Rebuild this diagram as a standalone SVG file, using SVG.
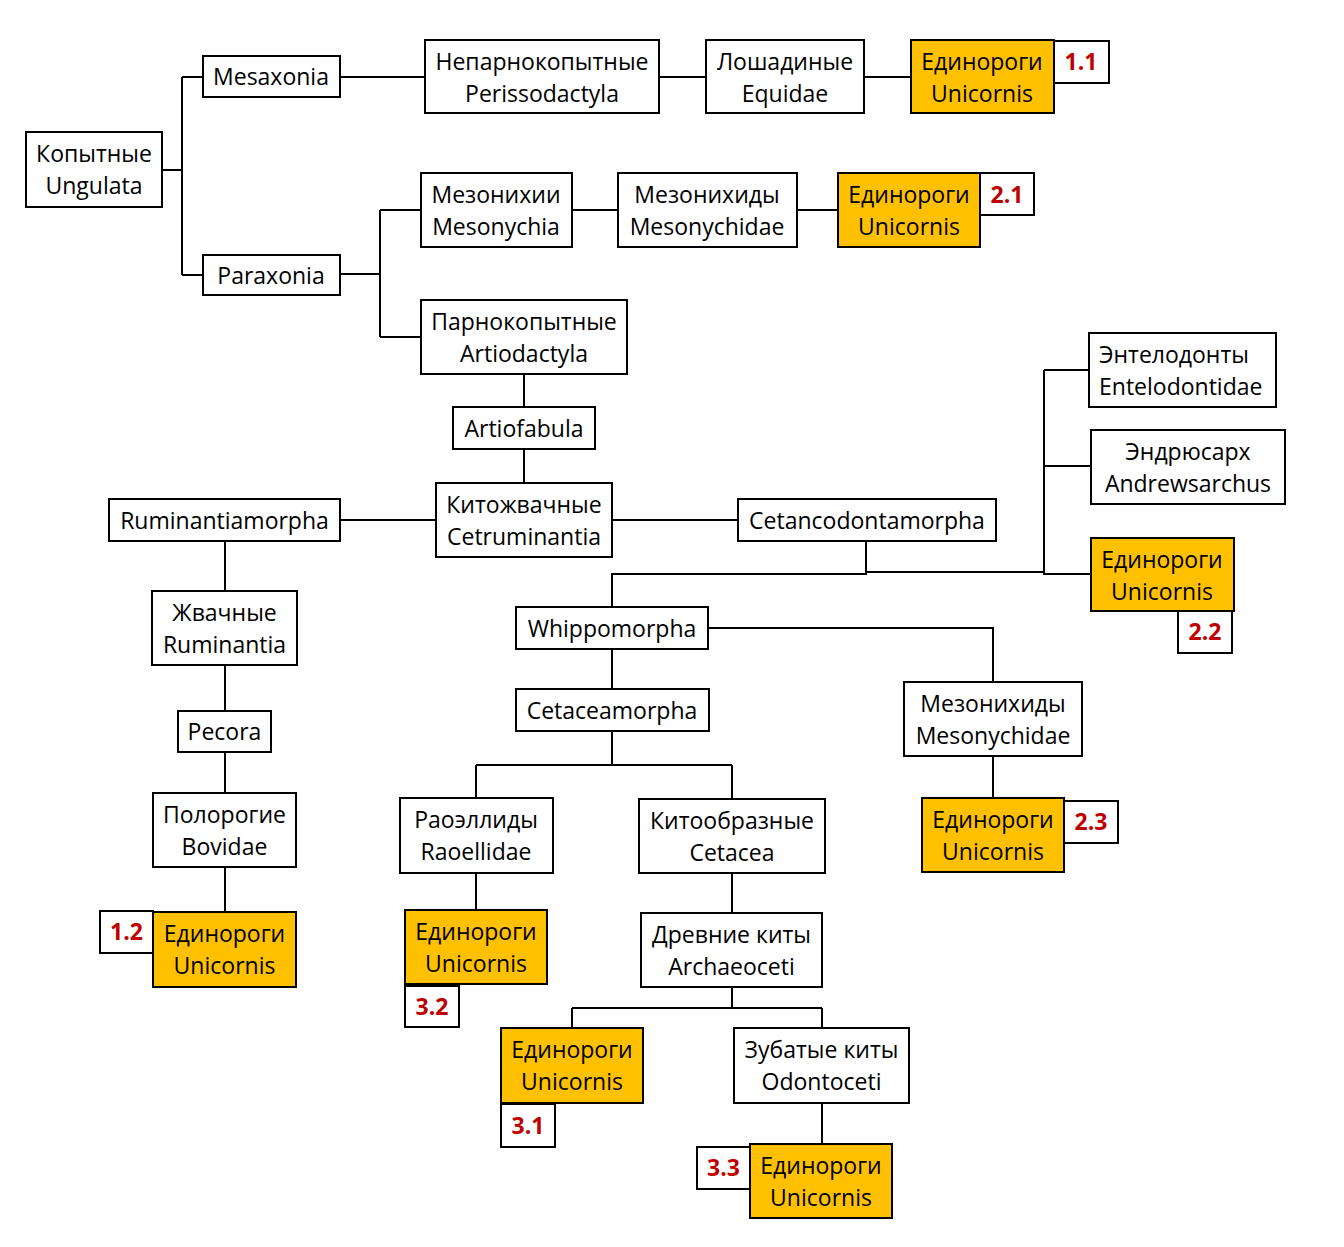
<svg xmlns="http://www.w3.org/2000/svg" width="1344" height="1247" viewBox="0 0 1344 1247">
<style>
.b{fill:#fff;stroke:#000;stroke-width:2}
.u{fill:#FFC000;stroke:#000;stroke-width:2}
text{font-family:"Open Sans","Noto Sans",sans-serif;font-size:23px;fill:#000;text-anchor:middle}
text.l{fill:#C00000;font-weight:bold}
#connectors path{fill:none;stroke:#000;stroke-width:2}
</style>
<rect width="1344" height="1247" fill="#fff"/>
<g id="connectors">
<path d="M162,170H182M182,77V275M182,77H203M182,275H203"/>
<path d="M340,77H425M659,77H706M864,77H911"/>
<path d="M340,274H380M380,210V337M380,210H421M380,337H421"/>
<path d="M572,210H618M797,210H838"/>
<path d="M524,374V407M524,449V483"/>
<path d="M436,520H340M612,520H738"/>
<path d="M225,541V591M225,665V711M225,752V793M225,867V912"/>
<path d="M866,541V574H612V607M866,572H1044M1044,370V574H1091M1044,370H1089M1044,466H1091"/>
<path d="M708,628H993V682M993,756V798"/>
<path d="M612,649V689M612,731V765M476,765H732M476,765V798M732,765V799"/>
<path d="M476,873V910M732,873V913"/>
<path d="M732,987V1008M572,1008H822M572,1008V1028M822,1008V1028M822,1103V1144"/>
</g>
<g id="n_ungulata"><rect class="b" x="26" y="132" width="136" height="75"/><text x="94" y="162">Копытные</text><text x="94" y="194">Ungulata</text></g>
<g id="n_mesaxonia"><rect class="b" x="203" y="56" width="137" height="41"/><text x="271" y="85">Mesaxonia</text></g>
<g id="n_paraxonia"><rect class="b" x="203" y="255" width="137" height="40"/><text x="271" y="284">Paraxonia</text></g>
<g id="n_perissodactyla"><rect class="b" x="425" y="40" width="234" height="73"/><text x="542" y="70">Непарнокопытные</text><text x="542" y="102">Perissodactyla</text></g>
<g id="n_equidae"><rect class="b" x="706" y="40" width="158" height="73"/><text x="785" y="70">Лошадиные</text><text x="785" y="102">Equidae</text></g>
<g id="n_u11"><rect class="u" x="911" y="40" width="143" height="73"/><text x="982" y="70">Единороги</text><text x="982" y="102">Unicornis</text><rect class="b" x="1054" y="41" width="55" height="42"/><text class="l" x="1081" y="70">1.1</text></g>
<g id="n_mesonychia"><rect class="b" x="421" y="173" width="151" height="74"/><text x="496" y="203">Мезонихии</text><text x="496" y="235">Mesonychia</text></g>
<g id="n_mesonychidae1"><rect class="b" x="618" y="173" width="179" height="74"/><text x="707" y="203">Мезонихиды</text><text x="707" y="235">Mesonychidae</text></g>
<g id="n_u21"><rect class="u" x="838" y="173" width="142" height="74"/><text x="909" y="203">Единороги</text><text x="909" y="235">Unicornis</text><rect class="b" x="980" y="173" width="54" height="42"/><text class="l" x="1007" y="203">2.1</text></g>
<g id="n_artiodactyla"><rect class="b" x="421" y="300" width="206" height="74"/><text x="524" y="330">Парнокопытные</text><text x="524" y="362">Artiodactyla</text></g>
<g id="n_artiofabula"><rect class="b" x="453" y="407" width="142" height="42"/><text x="524" y="437">Artiofabula</text></g>
<g id="n_cetruminantia"><rect class="b" x="436" y="483" width="176" height="74"/><text x="524" y="513">Китожвачные</text><text x="524" y="545">Cetruminantia</text></g>
<g id="n_ruminantiamorpha"><rect class="b" x="109" y="499" width="231" height="42"/><text x="224.5" y="529">Ruminantiamorpha</text></g>
<g id="n_cetancodontamorpha"><rect class="b" x="738" y="499" width="258" height="42"/><text x="867" y="529">Cetancodontamorpha</text></g>
<g id="n_entelodontidae"><rect class="b" x="1089" y="333" width="187" height="74"/><text x="1099" y="363" style="text-anchor:start">Энтелодонты</text><text x="1099" y="395" style="text-anchor:start">Entelodontidae</text></g>
<g id="n_andrewsarchus"><rect class="b" x="1091" y="430" width="194" height="74"/><text x="1188" y="460">Эндрюсарх</text><text x="1188" y="492">Andrewsarchus</text></g>
<g id="n_u22"><rect class="u" x="1091" y="538" width="143" height="73"/><text x="1162" y="568">Единороги</text><text x="1162" y="600">Unicornis</text><rect class="b" x="1178" y="611" width="54" height="42"/><text class="l" x="1205" y="640">2.2</text></g>
<g id="n_ruminantia"><rect class="b" x="152" y="591" width="145" height="74"/><text x="224.5" y="621">Жвачные</text><text x="224.5" y="653">Ruminantia</text></g>
<g id="n_pecora"><rect class="b" x="178" y="711" width="93" height="41"/><text x="224.5" y="740">Pecora</text></g>
<g id="n_bovidae"><rect class="b" x="153" y="793" width="143" height="74"/><text x="224.5" y="823">Полорогие</text><text x="224.5" y="855">Bovidae</text></g>
<g id="n_u12"><rect class="u" x="153" y="912" width="143" height="75"/><text x="224.5" y="942">Единороги</text><text x="224.5" y="974">Unicornis</text><rect class="b" x="100" y="911" width="53" height="42"/><text class="l" x="126.5" y="940">1.2</text></g>
<g id="n_whippomorpha"><rect class="b" x="516" y="607" width="192" height="42"/><text x="612" y="637">Whippomorpha</text></g>
<g id="n_cetaceamorpha"><rect class="b" x="516" y="689" width="193" height="42"/><text x="612" y="719">Cetaceamorpha</text></g>
<g id="n_mesonychidae2"><rect class="b" x="904" y="682" width="178" height="74"/><text x="993" y="712">Мезонихиды</text><text x="993" y="744">Mesonychidae</text></g>
<g id="n_u23"><rect class="u" x="922" y="798" width="142" height="74"/><text x="993" y="828">Единороги</text><text x="993" y="860">Unicornis</text><rect class="b" x="1064" y="801" width="54" height="42"/><text class="l" x="1091" y="830">2.3</text></g>
<g id="n_raoellidae"><rect class="b" x="400" y="798" width="153" height="75"/><text x="476" y="828">Раоэллиды</text><text x="476" y="860">Raoellidae</text></g>
<g id="n_cetacea"><rect class="b" x="639" y="799" width="186" height="74"/><text x="732" y="829">Китообразные</text><text x="732" y="861">Cetacea</text></g>
<g id="n_archaeoceti"><rect class="b" x="641" y="913" width="181" height="74"/><text x="731.5" y="943">Древние киты</text><text x="731.5" y="975">Archaeoceti</text></g>
<g id="n_u32"><rect class="u" x="405" y="910" width="142" height="74"/><text x="476" y="940">Единороги</text><text x="476" y="972">Unicornis</text><rect class="b" x="405" y="986" width="54" height="41"/><text class="l" x="432" y="1015">3.2</text></g>
<g id="n_u31"><rect class="u" x="501" y="1028" width="142" height="75"/><text x="572" y="1058">Единороги</text><text x="572" y="1090">Unicornis</text><rect class="b" x="501" y="1104" width="54" height="43"/><text class="l" x="528" y="1134">3.1</text></g>
<g id="n_odontoceti"><rect class="b" x="734" y="1028" width="175" height="75"/><text x="821.5" y="1058">Зубатые киты</text><text x="821.5" y="1090">Odontoceti</text></g>
<g id="n_u33"><rect class="u" x="750" y="1144" width="142" height="74"/><text x="821" y="1174">Единороги</text><text x="821" y="1206">Unicornis</text><rect class="b" x="697" y="1147" width="53" height="42"/><text class="l" x="723.5" y="1176">3.3</text></g>
</svg>
